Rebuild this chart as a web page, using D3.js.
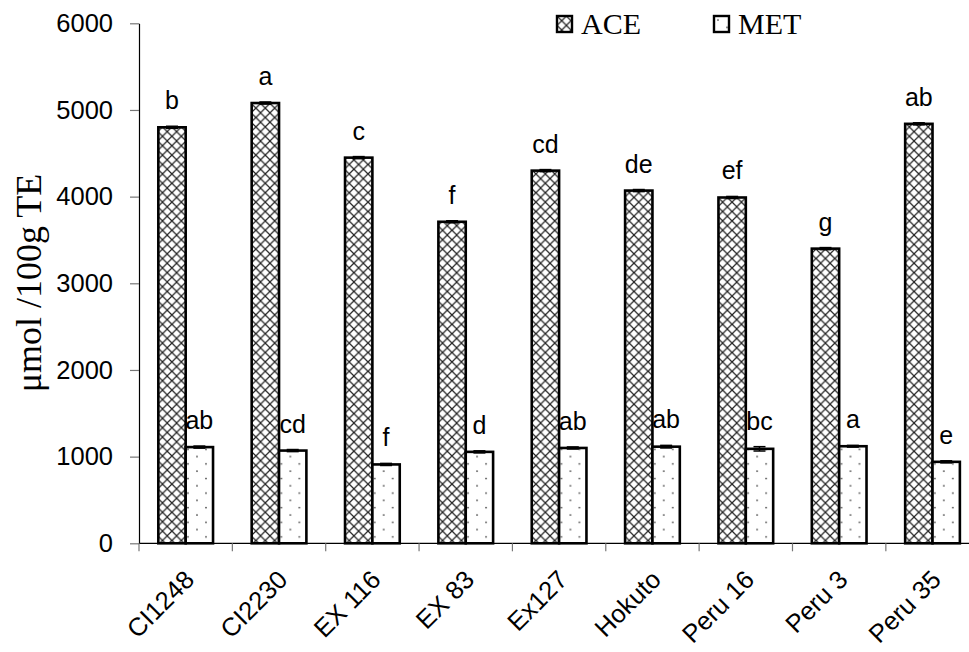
<!DOCTYPE html>
<html>
<head>
<meta charset="utf-8">
<script src="https://cdn.jsdelivr.net/npm/d3@7"></script>
<style>
  html, body { margin: 0; padding: 0; background: #fff; }
  svg { display: block; }
</style>
</head>
<body>
<div id="chart"></div>
<script>
// Antioxidant capacity (ACE) and methanolic extract (MET) per cultivar
const categories = ["CI1248", "CI2230", "EX 116", "EX 83", "Ex127", "Hokuto", "Peru 16", "Peru 3", "Peru 35"];
const aceValues = [4800, 5080, 4450, 3710, 4300, 4070, 3990, 3400, 4840];
const aceErrors = [12, 12, 12, 12, 12, 12, 12, 12, 12];
const metValues = [1110, 1070, 910, 1055, 1100, 1115, 1090, 1120, 940];
const metErrors = [12, 12, 12, 12, 12, 15, 25, 10, 12];
const aceLetters = ["b", "a", "c", "f", "cd", "de", "ef", "g", "ab"];
const metLetters = ["ab", "cd", "f", "d", "ab", "ab", "bc", "a", "e"];
const seriesNames = ["ACE", "MET"];
const yTicks = [0, 1000, 2000, 3000, 4000, 5000, 6000];

const width = 969, height = 652;
const margin = { left: 139, top: 23.3, bottom: 543.3 };
const plotRight = 979.2;

const svg = d3.select("#chart").append("svg")
  .attr("width", width).attr("height", height);

const defs = svg.append("defs");

// crosshatch fill for ACE
const hatch = defs.append("pattern")
  .attr("id", "hatch").attr("patternUnits", "userSpaceOnUse")
  .attr("width", 9.4).attr("height", 9.4);
hatch.append("rect").attr("width", 9.4).attr("height", 9.4).attr("fill", "#fff");
hatch.append("path").attr("d", "M0,0 L9.4,9.4 M9.4,0 L0,9.4")
  .attr("stroke", "#222").attr("stroke-width", 1.2).attr("fill", "none");

// dotted fill for MET
const dots = defs.append("pattern")
  .attr("id", "dots").attr("patternUnits", "userSpaceOnUse")
  .attr("width", 18).attr("height", 14.6);
dots.append("rect").attr("width", 18).attr("height", 14.6).attr("fill", "#fff");
dots.append("circle").attr("cx", 4).attr("cy", 4).attr("r", 0.9).attr("fill", "#444");
dots.append("circle").attr("cx", 13).attr("cy", 11.3).attr("r", 0.9).attr("fill", "#444");

const fills = { ACE: "url(#hatch)", MET: "url(#dots)" };

const x = d3.scaleBand().domain(categories).range([margin.left, plotRight]).padding(0);
const xs = d3.scaleBand().domain(seriesNames)
  .range([x.bandwidth() * 0.207, x.bandwidth() * 0.793]).padding(0);
const y = d3.scaleLinear().domain([0, 6000]).range([margin.bottom, margin.top]);

const rows = categories.map((c, i) => ({
  cat: c,
  items: [
    { key: "ACE", value: aceValues[i], err: aceErrors[i], letter: aceLetters[i] },
    { key: "MET", value: metValues[i], err: metErrors[i], letter: metLetters[i] }
  ]
}));

// y axis
const yAxis = svg.append("g")
  .attr("transform", `translate(${margin.left},0)`)
  .call(d3.axisLeft(y).tickValues(yTicks).tickFormat(d3.format("d"))
    .tickSize(9).tickPadding(17).tickSizeOuter(0));
yAxis.select(".domain").attr("stroke", "#000").attr("stroke-width", 1.2);
yAxis.selectAll(".tick line").attr("stroke", "#777").attr("stroke-width", 1.2);
yAxis.selectAll(".tick text")
  .attr("font-family", "Liberation Sans, Arial, sans-serif")
  .attr("font-size", 25.5).attr("fill", "#000");

// x axis with ticks on category boundaries
const boundaries = categories.map(c => x(c)).concat([plotRight]);
svg.append("line")
  .attr("x1", margin.left).attr("x2", plotRight)
  .attr("y1", y(0)).attr("y2", y(0))
  .attr("stroke", "#000").attr("stroke-width", 1.2);
svg.selectAll(".xtick").data(boundaries).join("line")
  .attr("class", "xtick")
  .attr("x1", d => d).attr("x2", d => d)
  .attr("y1", y(0)).attr("y2", y(0) + 8)
  .attr("stroke", "#777").attr("stroke-width", 1.2);

svg.selectAll(".xlabel").data(categories).join("text")
  .attr("class", "xlabel")
  .attr("transform", d => `translate(${x(d) + x.bandwidth() / 2 + 10},${y(0) + 38}) rotate(-45)`)
  .attr("text-anchor", "end")
  .attr("font-family", "Liberation Sans, Arial, sans-serif")
  .attr("font-size", 25.5)
  .text(d => d);

// bars
const groups = svg.selectAll(".grp").data(rows).join("g")
  .attr("class", "grp")
  .attr("transform", d => `translate(${x(d.cat)},0)`);

groups.selectAll("rect").data(d => d.items).join("rect")
  .attr("x", d => xs(d.key))
  .attr("y", d => y(d.value))
  .attr("width", xs.bandwidth())
  .attr("height", d => y(0) - y(d.value))
  .attr("fill", d => fills[d.key])
  .attr("stroke", "#000").attr("stroke-width", 2.6);

// error bars
const eb = groups.selectAll(".err").data(d => d.items).join("g").attr("class", "err");
eb.append("line")
  .attr("x1", d => xs(d.key) + xs.bandwidth() / 2).attr("x2", d => xs(d.key) + xs.bandwidth() / 2)
  .attr("y1", d => y(d.value + d.err)).attr("y2", d => y(d.value - d.err))
  .attr("stroke", "#000").attr("stroke-width", 1.5);
eb.selectAll(".cap").data(d => [d.value + d.err, d.value - d.err].map(v => ({ v, key: d.key })))
  .join("line").attr("class", "cap")
  .attr("x1", d => xs(d.key) + xs.bandwidth() / 2 - 6)
  .attr("x2", d => xs(d.key) + xs.bandwidth() / 2 + 6)
  .attr("y1", d => y(d.v)).attr("y2", d => y(d.v))
  .attr("stroke", "#000").attr("stroke-width", 1.5);

// significance letters
groups.selectAll(".letter").data(d => d.items).join("text")
  .attr("class", "letter")
  .attr("x", d => xs(d.key) + xs.bandwidth() / 2)
  .attr("y", d => y(d.value + d.err) - 17)
  .attr("text-anchor", "middle")
  .attr("font-family", "Liberation Sans, Arial, sans-serif")
  .attr("font-size", 25)
  .text(d => d.letter);

// y axis title
svg.append("text")
  .attr("transform", `translate(41,283) rotate(-90)`)
  .attr("text-anchor", "middle")
  .attr("font-family", "Liberation Serif, Times New Roman, serif")
  .attr("font-size", 36)
  .text("μmol /100g TE");

// legend
const legendItems = [
  { key: "ACE", x: 557 },
  { key: "MET", x: 714 }
];
const lg = svg.selectAll(".lg").data(legendItems).join("g")
  .attr("class", "lg")
  .attr("transform", d => `translate(${d.x},16)`);
lg.append("rect")
  .attr("width", 15).attr("height", 16)
  .attr("fill", d => fills[d.key])
  .attr("stroke", "#000").attr("stroke-width", 2.4);
lg.append("text")
  .attr("x", 24).attr("y", 18)
  .attr("font-family", "Liberation Serif, Times New Roman, serif")
  .attr("font-size", 30)
  .text(d => d.key);
</script>
</body>
</html>
